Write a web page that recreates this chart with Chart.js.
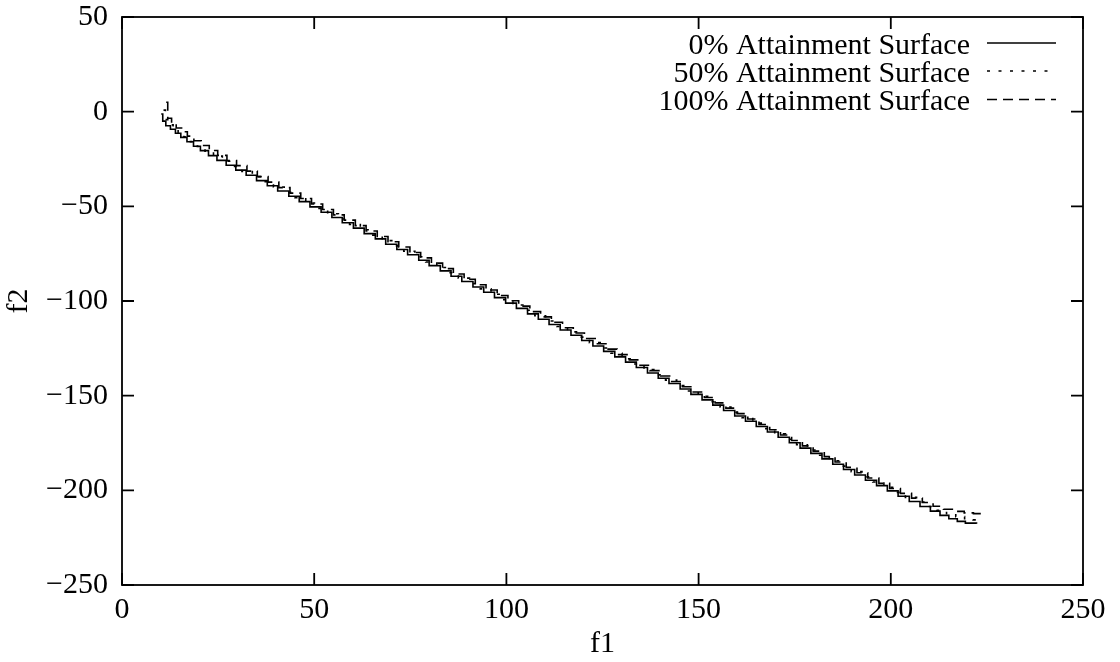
<!DOCTYPE html>
<html>
<head>
<meta charset="utf-8">
<style>
html,body{margin:0;padding:0;background:#fff;}
#wrap{width:1120px;height:662px;position:relative;}
</style>
<script src="https://cdn.jsdelivr.net/npm/chart.js@4/dist/chart.umd.min.js"></script>
</head>
<body>
<div id="wrap"><canvas id="c" width="1120" height="662"></canvas></div>
<script>
// ---- data ----
const seriesLabels = ["0% Attainment Surface", "50% Attainment Surface", "100% Attainment Surface"];

const s0_f1 = [10.2, 10.6, 11.4, 12.6, 13.9, 15.3, 16.9, 18.6, 20.4, 22.5, 24.7, 27.1, 29.6, 32.3, 35.0, 37.8, 40.5, 43.4, 46.1, 48.9,
  51.8, 54.6, 57.3, 60.2, 63.0, 65.9, 68.6, 71.5, 74.3, 77.2, 79.9, 82.8, 85.6, 88.4, 91.3, 94.1, 96.9, 99.8, 102.6, 105.5,
  108.3, 111.1, 114.0, 116.8, 119.6, 122.5, 125.3, 128.2, 131.0, 133.8, 136.7, 139.5, 142.3, 145.2, 148.0, 150.9, 153.7, 156.5, 159.4, 162.2,
  165.0, 167.9, 170.7, 173.6, 176.4, 179.2, 182.1, 184.9, 187.7, 190.6, 193.4, 196.3, 199.1, 201.9, 204.8, 207.6, 210.3, 212.8, 215.1, 217.3,
  219.4, 222.3];
const s0_f2 = [-1.2, -5.0, -7.4, -9.3, -11.4, -13.6, -15.9, -18.3, -20.6, -23.2, -25.7, -28.3, -30.9, -33.6, -36.4, -39.1, -41.9, -44.7, -47.5, -50.3,
  -53.1, -55.9, -58.7, -61.5, -64.4, -67.2, -70.0, -72.8, -75.6, -78.5, -81.3, -84.1, -86.9, -89.7, -92.6, -95.4, -98.2, -101.1, -103.9, -106.8,
  -109.6, -112.4, -115.3, -118.1, -120.9, -123.8, -126.6, -129.5, -132.3, -135.1, -138.0, -140.8, -143.6, -146.5, -149.3, -152.2, -155.0, -157.8, -160.7, -163.5,
  -166.3, -169.2, -172.0, -174.9, -177.7, -180.5, -183.4, -186.2, -189.0, -191.9, -194.7, -197.5, -200.3, -203.1, -205.9, -208.5, -211.0, -213.2, -215.0, -216.4,
  -217.3, -217.6];

const s50_f1 = [10.8, 11.3, 12.2, 13.3, 14.6, 16.1, 17.8, 19.6, 21.6, 23.8, 26.1, 28.6, 31.2, 33.9, 36.6, 39.4, 42.2, 45.0, 47.8, 50.7,
  53.5, 56.3, 59.2, 62.0, 64.8, 67.7, 70.5, 73.3, 76.2, 79.0, 81.9, 84.7, 87.5, 90.4, 93.2, 96.0, 98.9, 101.7, 104.5, 107.4,
  110.2, 113.1, 115.9, 118.7, 121.6, 124.4, 127.2, 130.1, 132.9, 135.8, 138.6, 141.4, 144.3, 147.1, 149.9, 152.8, 155.6, 158.4, 161.3, 164.1,
  167.0, 169.8, 172.6, 175.5, 178.3, 181.1, 184.0, 186.8, 189.7, 192.5, 195.3, 198.2, 201.0, 203.8, 206.7, 209.4, 212.0, 214.5, 216.9, 219.2,
  221.4, 223.0];
const s50_f2 = [0.8, -4.2, -7.0, -8.9, -10.9, -13.3, -15.8, -18.4, -20.9, -23.5, -26.2, -28.9, -31.6, -34.3, -37.0, -39.8, -42.6, -45.4, -48.2, -51.1,
  -53.9, -56.7, -59.6, -62.4, -65.2, -68.1, -70.9, -73.7, -76.6, -79.4, -82.3, -85.1, -87.9, -90.8, -93.6, -96.4, -99.3, -102.1, -104.9, -107.8,
  -110.6, -113.5, -116.3, -119.1, -122.0, -124.8, -127.6, -130.5, -133.3, -136.2, -139.0, -141.8, -144.7, -147.5, -150.3, -153.2, -156.0, -158.8, -161.7, -164.5,
  -167.4, -170.2, -173.0, -175.9, -178.7, -181.5, -184.4, -187.2, -190.1, -192.9, -195.6, -198.4, -201.1, -203.7, -206.2, -208.5, -210.6, -212.4, -213.9, -215.0,
  -215.6, -215.8];

const s100_f1 = [11.5, 11.9, 12.9, 14.1, 15.5, 17.0, 18.7, 20.6, 22.7, 24.9, 27.3, 29.8, 32.5, 35.2, 38.0, 40.8, 43.7, 46.5, 49.3, 52.2,
  55.0, 57.8, 60.7, 63.5, 66.4, 69.2, 72.0, 74.9, 77.7, 80.5, 83.4, 86.2, 89.0, 91.9, 94.7, 97.6, 100.4, 103.2, 106.1, 108.9,
  111.7, 114.6, 117.4, 120.3, 123.1, 125.9, 128.8, 131.6, 134.4, 137.3, 140.1, 143.0, 145.8, 148.6, 151.5, 154.3, 157.1, 160.0, 162.8, 165.7,
  168.5, 171.3, 174.2, 177.0, 179.8, 182.7, 185.5, 188.4, 191.2, 194.0, 196.9, 199.7, 202.5, 205.4, 208.2, 211.0, 213.7, 216.4, 219.1, 221.5,
  224.2];
const s100_f2 = [5.0, -3.5, -6.6, -8.6, -10.6, -12.9, -15.4, -17.9, -20.5, -23.1, -25.8, -28.5, -31.4, -34.3, -37.2, -40.1, -43.0, -45.9, -48.8, -51.7,
  -54.5, -57.3, -60.2, -63.0, -65.9, -68.7, -71.5, -74.4, -77.2, -80.0, -82.9, -85.7, -88.5, -91.4, -94.2, -97.1, -99.9, -102.7, -105.6, -108.4,
  -111.2, -114.1, -116.9, -119.8, -122.6, -125.4, -128.3, -131.1, -133.9, -136.8, -139.6, -142.5, -145.3, -148.1, -151.0, -153.8, -156.6, -159.5, -162.3, -165.2,
  -168.0, -170.8, -173.7, -176.5, -179.3, -182.2, -185.0, -187.9, -190.7, -193.5, -196.3, -199.0, -201.6, -204.1, -206.4, -208.4, -210.0, -211.1, -211.9, -212.3,
  -212.4];

const xTicks = [0, 50, 100, 150, 200, 250];
const yTicks = [50, 0, -50, -100, -150, -200, -250];
const xTitle = "f1";
const yTitle = "f2";

// ---- styling ----
const FONT = "Liberation Serif, Times New Roman, serif";
const FS = 30;
const dashes = [[], [3, 8.5], [10, 6]];

function pts(xs, ys) { return xs.map((x, i) => ({ x: x, y: ys[i] })); }
function fmt(v) { return v < 0 ? "\u2212" + Math.abs(v) : String(v); }

const datasets = [
  { label: seriesLabels[0], data: pts(s0_f1, s0_f2), borderDash: dashes[0] },
  { label: seriesLabels[1], data: pts(s50_f1, s50_f2), borderDash: dashes[1] },
  { label: seriesLabels[2], data: pts(s100_f1, s100_f2), borderDash: dashes[2] }
].map(d => Object.assign(d, {
  borderColor: "#000", borderWidth: 1.6, pointRadius: 0, fill: false, stepped: "before", tension: 0
}));

const framePlugin = {
  id: "frame",
  afterDatasetsDraw(chart) {
    const ctx = chart.ctx, a = chart.chartArea, xs = chart.scales.x, ys = chart.scales.y;
    ctx.save();
    ctx.strokeStyle = "#000";
    ctx.lineWidth = 1.8;
    ctx.setLineDash([]);
    ctx.strokeRect(a.left, a.top, a.right - a.left, a.bottom - a.top);
    const L = 12;
    ctx.beginPath();
    xTicks.forEach(v => {
      const px = xs.getPixelForValue(v);
      ctx.moveTo(px, a.bottom); ctx.lineTo(px, a.bottom - L);
      ctx.moveTo(px, a.top); ctx.lineTo(px, a.top + L);
    });
    yTicks.forEach(v => {
      const py = ys.getPixelForValue(v);
      ctx.moveTo(a.left, py); ctx.lineTo(a.left + L, py);
      ctx.moveTo(a.right, py); ctx.lineTo(a.right - L, py);
    });
    ctx.stroke();

    // legend (text right-aligned, line sample to the right)
    ctx.font = FS + "px " + FONT;
    ctx.fillStyle = "#000";
    ctx.textAlign = "right";
    ctx.textBaseline = "alphabetic";
    const baselines = [53.5, 81.5, 110];
    chart.data.datasets.forEach((d, i) => {
      ctx.fillText(d.label, 970, baselines[i]);
      ctx.beginPath();
      ctx.lineWidth = 1.6;
      ctx.setLineDash(d.borderDash);
      const ly = baselines[i] - 10.5;
      ctx.moveTo(987, ly); ctx.lineTo(1056, ly);
      ctx.stroke();
    });
    ctx.restore();
  }
};

new Chart(document.getElementById("c"), {
  type: "line",
  data: { datasets: datasets },
  plugins: [framePlugin],
  options: {
    responsive: false,
    animation: false,
    devicePixelRatio: 1,
    layout: { padding: { top: 17, right: 37, left: 0, bottom: 0 } },
    plugins: { legend: { display: false }, tooltip: { enabled: false } },
    events: [],
    scales: {
      x: {
        type: "linear", position: "bottom", min: 0, max: 250,
        grid: { display: false, drawTicks: false },
        border: { display: false },
        afterBuildTicks: s => { s.ticks = xTicks.map(v => ({ value: v })); },
        afterFit: s => { s.height = 77; s.paddingLeft = 0; s.paddingRight = 0; },
        ticks: { color: "#000", font: { family: FONT, size: FS, lineHeight: 1 }, padding: 10, maxRotation: 0, autoSkip: false, callback: v => fmt(v) },
        title: { display: true, text: xTitle, color: "#000", font: { family: FONT, size: FS, lineHeight: 1 }, padding: { top: 0, bottom: 3 } }
      },
      y: {
        type: "linear", position: "left", min: -250, max: 50,
        grid: { display: false, drawTicks: false },
        border: { display: false },
        afterBuildTicks: s => { s.ticks = yTicks.slice().reverse().map(v => ({ value: v })); },
        afterFit: s => { s.width = 122; s.paddingTop = 0; s.paddingBottom = 0; },
        ticks: { color: "#000", font: { family: FONT, size: FS, lineHeight: 1 }, padding: 14, autoSkip: false, callback: v => fmt(v) },
        title: { display: true, text: yTitle, color: "#000", font: { family: FONT, size: FS, lineHeight: 1 }, padding: { top: 4, bottom: 0 } }
      }
    }
  }
});
</script>
</body>
</html>
